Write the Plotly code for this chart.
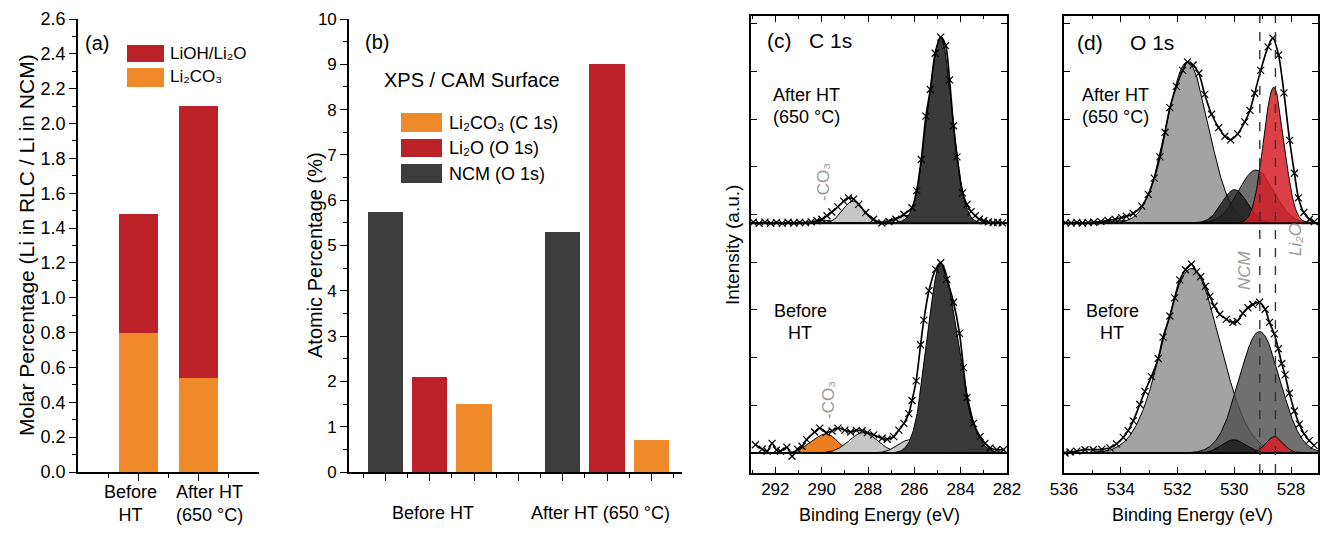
import numpy as np
import plotly.graph_objects as go

W, H = 1320, 535
FONT = "Liberation Sans, Arial, sans-serif"

# ---------------- data ----------------
# (a) molar percentage of residual lithium compounds
a_categories = ["Before<br>HT", "After HT<br>(650 °C)"]
a_li2co3 = [0.80, 0.54]
a_lioh_li2o = [0.68, 1.56]

# (b) XPS atomic percentages
b_groups = ["Before HT", "After HT (650 °C)"]
b_ncm = [5.73, 5.30]
b_li2o = [2.10, 9.00]
b_li2co3 = [1.50, 0.70]

# (c) C 1s fitted components: centre (eV), height, FWHM left, FWHM right
c_top_center = [289.75, 288.65, 286.30, 284.86]
c_top_height = [0.015, 0.115, 0.040, 0.970]
c_top_fwhm_l = [1.00, 1.00, 1.30, 1.30]
c_top_fwhm_r = [1.00, 1.00, 1.30, 1.18]
c_bot_center = [289.80, 288.20, 286.20, 284.86]
c_bot_height = [0.100, 0.107, 0.069, 0.995]
c_bot_fwhm_l = [1.45, 1.45, 1.20, 1.35]
c_bot_fwhm_r = [1.15, 1.45, 1.20, 1.75]
c_colors = ["#ee7d1f", "#c6c6c6", "#c6c6c6", "#3a3a3a"]

# (c) measured points
c_top_be = [292.95, 292.7, 292.45, 292.2, 291.95, 291.7, 291.45, 291.2, 290.95, 290.7,
            290.45, 290.2, 289.99, 289.77, 289.56, 289.3, 289.05, 288.84, 288.62, 288.4,
            288.1, 287.76, 287.4, 287.1, 286.8, 286.45, 286.1, 285.9, 285.7, 285.5,
            285.31, 285.1, 284.86, 284.65, 284.48, 284.31, 284.16, 283.92, 283.73, 283.55,
            283.37, 283.2, 283.0, 282.8, 282.6, 282.4, 282.2]
c_top_int = [0.004, -0.002, 0.005, -0.001, 0.003, -0.002, 0.004, 0.0, 0.003, 0.002,
             0.006, 0.012, 0.02, 0.038, 0.058, 0.085, 0.115, 0.132, 0.125, 0.098,
             0.055, 0.02, 0.0, 0.008, 0.02, 0.046, 0.08, 0.17, 0.333, 0.56,
             0.70, 0.89, 0.974, 0.93, 0.75, 0.51, 0.347, 0.158, 0.098, 0.06,
             0.038, 0.02, 0.012, 0.006, 0.002, 0.004, 0.001]
c_bot_be = [292.86, 292.57, 292.35, 292.14, 291.95, 291.78, 291.5, 291.28, 291.05, 290.85,
            290.65, 290.3, 290.08, 289.8, 289.55, 289.3, 289.0, 288.75, 288.5, 288.25,
            288.03, 287.75, 287.39, 287.17, 286.89, 286.67, 286.45, 286.24, 286.1, 285.92,
            285.73, 285.59, 285.37, 285.08, 284.86, 284.6, 284.31, 284.05, 283.88, 283.73,
            283.45, 283.16, 282.95, 282.73, 282.44, 282.15]
c_bot_int = [0.043, 0.02, 0.01, 0.05, 0.015, 0.01, 0.03, -0.017, 0.02, 0.035,
             0.07, 0.11, 0.13, 0.107, 0.115, 0.13, 0.12, 0.11, 0.118, 0.117,
             0.107, 0.095, 0.077, 0.072, 0.086, 0.12, 0.155, 0.206, 0.275, 0.378,
             0.567, 0.696, 0.85, 0.962, 0.997, 0.91, 0.79, 0.627, 0.447, 0.29,
             0.155, 0.086, 0.05, 0.026, 0.017, 0.017]

# (d) O 1s fitted components
d_top_center = [533.60, 531.65, 529.23, 529.99, 528.61]
d_top_height = [0.015, 0.845, 0.278, 0.175, 0.711]
d_top_fwhm = [1.60, 1.74, 1.45, 1.05, 0.85]
d_bot_center = [533.50, 531.51, 529.11, 530.01, 528.58]
d_bot_height = [0.020, 0.967, 0.636, 0.069, 0.086]
d_bot_fwhm = [1.60, 2.35, 1.70, 1.00, 0.70]
d_colors = ["rgba(175,175,175,0.9)", "rgba(163,163,163,1)", "rgba(80,80,80,0.82)",
            "rgba(25,25,25,0.8)", "rgba(214,30,38,0.85)"]

d_top_be = [535.95, 535.75, 535.55, 535.35, 535.15, 534.95, 534.7, 534.45, 534.2, 533.97,
            533.8, 533.56, 533.26, 533.03, 532.82, 532.62, 532.44, 532.27, 532.04, 531.82,
            531.65, 531.45, 531.25, 531.04, 530.8, 530.55, 530.33, 530.13, 529.88, 529.63,
            529.45, 529.28, 529.07, 528.81, 528.64, 528.44, 528.25, 528.05, 527.88, 527.74,
            527.55, 527.35, 527.18]
d_top_int = [0.002, 0.0, 0.003, 0.0, 0.002, 0.004, 0.007, 0.014, 0.02, 0.028,
             0.035, 0.05, 0.089, 0.15, 0.235, 0.347, 0.476, 0.605, 0.716, 0.80,
             0.845, 0.828, 0.785, 0.674, 0.57, 0.50, 0.455, 0.436, 0.467, 0.53,
             0.59, 0.68, 0.80, 0.923, 0.969, 0.88, 0.682, 0.433, 0.261, 0.132,
             0.055, 0.02, 0.007]
d_bot_be = [535.96, 535.79, 535.55, 535.26, 534.97, 534.67, 534.38, 534.15, 533.91, 533.74,
            533.56, 533.33, 533.15, 532.92, 532.68, 532.51, 532.27, 532.1, 531.92, 531.72,
            531.51, 531.33, 531.18, 531.02, 530.86, 530.71, 530.51, 530.28, 530.05, 529.9,
            529.7, 529.52, 529.35, 529.11, 528.91, 528.76, 528.59, 528.45, 528.33, 528.21,
            528.06, 527.88, 527.71, 527.54, 527.36, 527.19]
d_bot_int = [0.0, 0.005, 0.01, 0.017, 0.017, 0.019, 0.027, 0.048, 0.082, 0.117,
             0.168, 0.254, 0.323, 0.40, 0.495, 0.607, 0.718, 0.813, 0.907, 0.96,
             0.99, 0.95, 0.924, 0.873, 0.821, 0.77, 0.727, 0.70, 0.684, 0.69,
             0.732, 0.761, 0.778, 0.79, 0.753, 0.684, 0.624, 0.546, 0.469, 0.409,
             0.314, 0.22, 0.151, 0.10, 0.065, 0.04]

NCM_LINE = 529.1
LI2O_LINE = 528.55

# ---------------- layout helpers ----------------
TOP_OFFSET = 1.205  # vertical offset of the upper spectrum


def fx(px):
    return px / W


def fy(py):
    return 1 - py / H


RED = "#bb2127"
ORANGE = "#ee8a2a"
DARK = "#3d3d3d"

fig = go.Figure()

# ---- (a) stacked bars
a_x = [1, 2]
fig.add_trace(go.Bar(x=a_x, y=a_li2co3, width=0.65, marker=dict(color=ORANGE, line_width=0),
                     xaxis="x", yaxis="y", showlegend=False, name="Li₂CO₃"))
fig.add_trace(go.Bar(x=a_x, y=a_lioh_li2o, width=0.65, marker=dict(color=RED, line_width=0),
                     xaxis="x", yaxis="y", showlegend=False, name="LiOH/Li₂O"))

# ---- (b) grouped bars
b_base = [1, 5]
fig.add_trace(go.Bar(x=[b for b in b_base], y=b_ncm, width=0.8, marker=dict(color=DARK, line_width=0),
                     xaxis="x2", yaxis="y2", showlegend=False, name="NCM (O 1s)"))
fig.add_trace(go.Bar(x=[b + 1 for b in b_base], y=b_li2o, width=0.8, marker=dict(color=RED, line_width=0),
                     xaxis="x2", yaxis="y2", showlegend=False, name="Li₂O (O 1s)"))
fig.add_trace(go.Bar(x=[b + 2 for b in b_base], y=b_li2co3, width=0.8, marker=dict(color=ORANGE, line_width=0),
                     xaxis="x2", yaxis="y2", showlegend=False, name="Li₂CO₃ (C 1s)"))


def peak(x, c, h, wl, wr):
    s = np.where(x >= c, wl, wr) / 2.3548
    return h * np.exp(-(x - c) ** 2 / (2 * s ** 2))


def add_components(xs, centers, heights, fl, fr, colors, offset, xa, ya):
    for c, h, wl, wr, col in zip(centers, heights, fl, fr, colors):
        ys = offset + peak(xs, c, h, wl, wr)
        fig.add_trace(go.Scatter(
            x=np.concatenate([xs, xs[::-1]]),
            y=np.concatenate([ys, np.full_like(xs, offset)]),
            fill="toself", fillcolor=col, mode="lines",
            line=dict(color="black", width=1), xaxis=xa, yaxis=ya,
            showlegend=False, hoverinfo="skip"))


def add_data(be, inten, offset, xa, ya):
    fig.add_trace(go.Scatter(
        x=be, y=[offset + v for v in inten], mode="lines+markers",
        line=dict(color="black", width=1.7, shape="spline", smoothing=0.8),
        marker=dict(symbol="x-thin", size=7, line=dict(color="black", width=1.2)),
        xaxis=xa, yaxis=ya, showlegend=False))


xs_c = np.linspace(282.0, 293.1, 700)
add_components(xs_c, c_top_center, c_top_height, c_top_fwhm_l, c_top_fwhm_r, c_colors, TOP_OFFSET, "x3", "y3")
add_components(xs_c, c_bot_center, c_bot_height, c_bot_fwhm_l, c_bot_fwhm_r, c_colors, 0.0, "x3", "y3")
add_data(c_top_be, c_top_int, TOP_OFFSET, "x3", "y3")
add_data(c_bot_be, c_bot_int, 0.0, "x3", "y3")

xs_d = np.linspace(527.0, 536.1, 700)
add_components(xs_d, d_top_center, d_top_height, d_top_fwhm, d_top_fwhm, d_colors, TOP_OFFSET, "x4", "y4")
add_components(xs_d, d_bot_center, d_bot_height, d_bot_fwhm, d_bot_fwhm, d_colors, 0.0, "x4", "y4")
add_data(d_top_be, d_top_int, TOP_OFFSET, "x4", "y4")
add_data(d_bot_be, d_bot_int, 0.0, "x4", "y4")

# ---------------- axes ----------------
LW = 1.6
AB_Y = [fy(472), fy(19)]
CD_Y = [fy(473), fy(16)]
A_X = [fx(78), fx(259)]
B_X = [fx(349), fx(682)]
C_X = [fx(751), fx(1007)]
D_X = [fx(1064), fx(1318)]

base_ax = dict(showgrid=False, zeroline=False, showline=True, linecolor="black", linewidth=LW,
               automargin=False, tickangle=0,
               tickcolor="black", tickwidth=1.3, tickfont=dict(family=FONT, size=17, color="black"))

layout = dict(
    width=W, height=H, margin=dict(l=0, r=0, t=0, b=0, autoexpand=False),
    paper_bgcolor="white", plot_bgcolor="white", barmode="stack", bargap=0,
    font=dict(family=FONT, color="black"),
    xaxis=dict(base_ax, domain=A_X, anchor="y", range=[0, 3], tickmode="array", tickvals=a_x,
               ticks="outside", ticklen=7, showticklabels=False,
               minor=dict(tickmode="array", tickvals=[0.5, 1.5, 2.5], ticks="outside", ticklen=4,
                          tickcolor="black")),
    yaxis=dict(base_ax, domain=AB_Y, anchor="x", range=[0, 2.6], tick0=0, dtick=0.2, tickformat=".1f",
               ticks="outside", ticklen=7, tickfont=dict(family=FONT, size=18, color="black"),
               minor=dict(dtick=0.1, ticks="outside", ticklen=4, tickcolor="black")),
    xaxis5=dict(base_ax, overlaying="x", side="top", anchor="y", range=[0, 3], tickmode="array",
                tickvals=[0.5, 1, 1.5, 2, 2.5], ticks="inside", ticklen=5, showticklabels=False),
    yaxis5=dict(base_ax, overlaying="y", side="right", anchor="x", range=[0, 2.6], tick0=0, dtick=0.2,
                ticks="inside", ticklen=6, showticklabels=False,
                minor=dict(dtick=0.1, ticks="inside", ticklen=3, tickcolor="black")),
    xaxis2=dict(base_ax, domain=B_X, anchor="y2", range=[0.18, 7.69], tick0=0, dtick=1,
                ticks="outside", ticklen=7, showticklabels=False,
                minor=dict(dtick=0.5, ticks="outside", ticklen=4, tickcolor="black")),
    yaxis2=dict(base_ax, domain=AB_Y, anchor="x2", range=[0, 10], tick0=0, dtick=1,
                ticks="outside", ticklen=7,
                minor=dict(dtick=0.5, ticks="outside", ticklen=4, tickcolor="black")),
    xaxis6=dict(base_ax, overlaying="x2", side="top", anchor="y2", range=[0.18, 7.69], tick0=0, dtick=1,
                ticks="inside", ticklen=6, showticklabels=False,
                minor=dict(dtick=0.5, ticks="inside", ticklen=3, tickcolor="black")),
    yaxis6=dict(base_ax, overlaying="y2", side="right", anchor="x2", range=[0, 10], tick0=0, dtick=1,
                ticks="inside", ticklen=6, showticklabels=False,
                minor=dict(dtick=0.5, ticks="inside", ticklen=3, tickcolor="black")),
    xaxis3=dict(base_ax, domain=C_X, anchor="y3", range=[293.05, 282], tick0=282, dtick=2,
                ticks="inside", ticklen=6, mirror="ticks",
                minor=dict(dtick=1, ticks="inside", ticklen=3, tickcolor="black")),
    yaxis3=dict(base_ax, domain=CD_Y, anchor="x3", range=[-0.105, 2.29], tickmode="array",
                tickvals=[i * 0.25 for i in range(10)], ticks="inside", ticklen=6, mirror="ticks",
                showticklabels=False),
    xaxis4=dict(base_ax, domain=D_X, anchor="y4", range=[536, 527.05], tick0=528, dtick=2,
                ticks="inside", ticklen=6, mirror="ticks",
                minor=dict(dtick=1, ticks="inside", ticklen=3, tickcolor="black")),
    yaxis4=dict(base_ax, domain=CD_Y, anchor="x4", range=[-0.105, 2.29], tickmode="array",
                tickvals=[i * 0.25 for i in range(10)], ticks="inside", ticklen=6, mirror="ticks",
                showticklabels=False),
)
fig.update_layout(**layout)

# ---------------- shapes ----------------
shapes = []
# legend boxes (a)
shapes.append(dict(type="rect", xref="paper", yref="paper", x0=fx(127), x1=fx(164), y0=fy(62), y1=fy(45),
                   fillcolor=RED, line_width=0))
shapes.append(dict(type="rect", xref="paper", yref="paper", x0=fx(127), x1=fx(164), y0=fy(87), y1=fy(68),
                   fillcolor=ORANGE, line_width=0))
# legend boxes (b)
for (t, b_, col) in [(113, 132, ORANGE), (139, 157, RED), (164, 183, DARK)]:
    shapes.append(dict(type="rect", xref="paper", yref="paper", x0=fx(401), x1=fx(442), y0=fy(b_), y1=fy(t),
                       fillcolor=col, line_width=0))
# divider / baselines in (c) and (d)
for xa, ya in [("x3", "y3"), ("x4", "y4")]:
    shapes.append(dict(type="line", xref=f"{xa} domain", yref=ya, x0=0, x1=1, y0=TOP_OFFSET - 0.003,
                       y1=TOP_OFFSET - 0.003, line=dict(color="black", width=1.5)))
    shapes.append(dict(type="line", xref=f"{xa} domain", yref=ya, x0=0, x1=1, y0=0, y1=0,
                       line=dict(color="black", width=1.3)))
# reference dashed lines in (d)
for xv in [NCM_LINE, LI2O_LINE]:
    shapes.append(dict(type="line", xref="x4", yref="y4 domain", x0=xv, x1=xv, y0=0, y1=1,
                       line=dict(color="#333333", width=1.4, dash="dash")))
fig.update_layout(shapes=shapes)

# ---------------- annotations ----------------
anns = []


def ann(px, py, text, size, xanchor="left", color="black", angle=0):
    anns.append(dict(x=fx(px), y=fy(py), xref="paper", yref="paper", text=text, showarrow=False,
                     xanchor=xanchor, yanchor="middle", textangle=angle,
                     font=dict(family=FONT, size=size, color=color)))


# (a)
ann(83, 43, "(a)", 20)
ann(168, 54, "LiOH/Li₂O", 17)
ann(168, 77, "Li₂CO₃", 17)
ann(27, 245, "Molar Percentage (Li in RLC / Li in NCM)", 21, "center", angle=-90)
ann(130, 503, a_categories[0], 18, "center")
ann(209, 503, a_categories[1], 18, "center")
# (b)
ann(363, 42, "(b)", 20)
ann(382, 80, "XPS / CAM Surface", 20)
ann(447, 123, "Li₂CO₃ (C 1s)", 18)
ann(447, 148, "Li₂O (O 1s)", 18)
ann(447, 174, "NCM (O 1s)", 18)
ann(315, 255, "Atomic Percentage (%)", 20, "center", angle=-90)
ann(433, 513, b_groups[0], 18, "center")
ann(600, 513, b_groups[1], 18, "center")
# (c)
ann(765, 40, "(c)", 21)
ann(807, 40, "C 1s", 21)
ann(771, 95, "After HT", 18)
ann(771, 117, "(650 °C)", 18)
ann(800, 311, "Before", 18, "center")
ann(800, 333, "HT", 18, "center")
ann(823, 182, "-CO₃", 17, "center", color="#9a9a9a", angle=-90)
ann(828, 400, "-CO₃", 17, "center", color="#9a9a9a", angle=-90)
ann(733, 245, "Intensity (a.u.)", 19, "center", angle=-90)
ann(879, 515, "Binding Energy (eV)", 18, "center")
# (d)
ann(1075, 42, "(d)", 21)
ann(1128, 42, "O 1s", 21)
ann(1080, 95, "After HT", 18)
ann(1080, 117, "(650 °C)", 18)
ann(1112, 311, "Before", 18, "center")
ann(1112, 333, "HT", 18, "center")
ann(1245, 270, "<i>NCM</i>", 17, "center", color="#9a9a9a", angle=-90)
ann(1295, 240, "<i>Li₂O</i>", 17, "center", color="#9a9a9a", angle=-90)
ann(1192, 515, "Binding Energy (eV)", 18, "center")
fig.update_layout(annotations=anns)

fig.write_html("out.html")
